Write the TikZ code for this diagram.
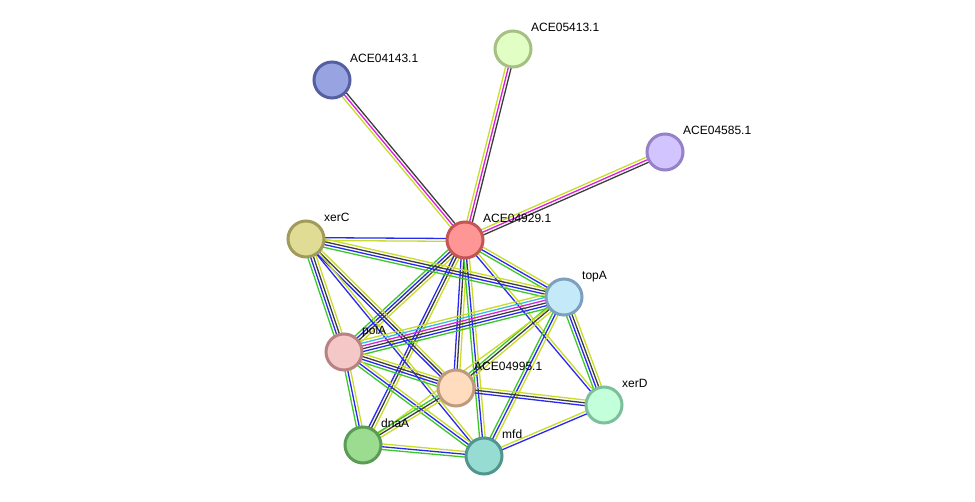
\documentclass[tikz,border=0pt]{standalone}
\usepackage{fontspec}
\setmainfont{Liberation Sans}
\usepackage{tikz}
\usetikzlibrary{calc, backgrounds, positioning}
\definecolor{strgreen}{RGB}{60, 200, 40}
\definecolor{strblue}{RGB}{40, 40, 240}
\definecolor{strblack}{RGB}{60, 60, 60}
\definecolor{strmag}{RGB}{220, 30, 220}
\definecolor{strcyan}{RGB}{40, 190, 230}
\definecolor{stryellow}{RGB}{200, 220, 40}
\definecolor{fillA}{RGB}{255, 150, 150}  \definecolor{lineA}{RGB}{195, 85, 85}
\definecolor{fillB}{RGB}{152, 163, 225}  \definecolor{lineB}{RGB}{85, 95, 160}
\definecolor{fillC}{RGB}{225, 255, 196}  \definecolor{lineC}{RGB}{165, 192, 130}
\definecolor{fillD}{RGB}{210, 196, 255}  \definecolor{lineD}{RGB}{150, 128, 200}
\definecolor{fillE}{RGB}{224, 220, 150}  \definecolor{lineE}{RGB}{160, 155, 90}
\definecolor{fillF}{RGB}{196, 234, 250}  \definecolor{lineF}{RGB}{125, 160, 190}
\definecolor{fillG}{RGB}{245, 200, 200}  \definecolor{lineG}{RGB}{185, 130, 130}
\definecolor{fillH}{RGB}{255, 220, 190}  \definecolor{lineH}{RGB}{190, 155, 125}
\definecolor{fillI}{RGB}{196, 255, 220}  \definecolor{lineI}{RGB}{125, 190, 155}
\definecolor{fillJ}{RGB}{155, 220, 145}  \definecolor{lineJ}{RGB}{90, 155, 85}
\definecolor{fillK}{RGB}{150, 220, 210}  \definecolor{lineK}{RGB}{80, 150, 140}

\tikzset{
    prot/.style={circle, minimum size=36pt, inner sep=0pt, line width=3pt},
    protlabel/.style={anchor=base west, inner sep=0pt, font=\fontsize{12}{14}\selectfont},
    evline/.style={line width=1.3pt}
}

% #1 name, #2 position, #3 fill, #4 border, #5 label
\newcommand{\prot}[5]{%
    \node[prot, fill=#3, draw=#4] (#1) at (#2) {};
    \node[protlabel] (#1-lbl) at ([shift={(18,-17)}]#1.center) {#5};
}

% #1 from, #2 to, #3 evidence colours
\newcommand{\strlink}[3]{%
    \foreach \col [count=\n] in {#3} {\xdef\nlines{\n}}%
    \foreach \col [count=\i] in {#3} {%
        \pgfmathsetmacro\off{(\i-(\nlines+1)/2)*2.8}%
        \draw[evline, \col] ($(#1.center)!\off pt!90:(#2.center)$) -- ($(#2.center)!\off pt!-90:(#1.center)$);
    }%
}

\begin{document}
\begin{tikzpicture}[x=1pt, y=-1pt]
    \useasboundingbox (0,0) rectangle (975,502);

    \prot{a4929}{465,240}{fillA}{lineA}{ACE04929.1}
    \prot{a4143}{332,80}{fillB}{lineB}{ACE04143.1}
    \prot{a5413}{513,49}{fillC}{lineC}{ACE05413.1}
    \prot{a4585}{665,152}{fillD}{lineD}{ACE04585.1}
    \prot{xerC}{306,239}{fillE}{lineE}{xerC}
    \prot{topA}{564,297}{fillF}{lineF}{topA}
    \prot{polA}{344,352}{fillG}{lineG}{polA}
    \prot{a4995}{456,388}{fillH}{lineH}{ACE04995.1}
    \prot{xerD}{604,405}{fillI}{lineI}{xerD}
    \prot{dnaA}{363,445}{fillJ}{lineJ}{dnaA}
    \prot{mfd}{484,456}{fillK}{lineK}{mfd}

    \begin{scope}[on background layer]
        \strlink{a4929}{a4143}{strblack,strmag,stryellow}
        \strlink{a4929}{a5413}{strblack,strmag,stryellow}
        \strlink{a4929}{a4585}{strblack,strmag,stryellow}
        \strlink{a4929}{xerC}{strblue,stryellow}
        \strlink{a4929}{topA}{strgreen,strblue,stryellow}
        \strlink{a4929}{polA}{strgreen,strblue,strblack,stryellow}
        \strlink{a4929}{a4995}{strblue,strblack,stryellow}
        \strlink{a4929}{dnaA}{strblue,strblack,stryellow}
        \strlink{a4929}{mfd}{strgreen,strblue,stryellow}
        \strlink{a4929}{xerD}{strblue,stryellow}
        \strlink{xerC}{topA}{strgreen,strblue,strblack,stryellow}
        \strlink{xerC}{polA}{strgreen,strblue,strblack,stryellow}
        \strlink{xerC}{a4995}{strblue,strblack,stryellow}
        \strlink{xerC}{mfd}{strblue,stryellow}
        \strlink{polA}{topA}{strgreen,strblue,strblack,strmag,strcyan,stryellow}
        \strlink{polA}{a4995}{strgreen,strblue,strblack,stryellow}
        \strlink{polA}{mfd}{strgreen,strblue,stryellow}
        \strlink{polA}{dnaA}{strgreen,strblue,stryellow}
        \strlink{topA}{a4995}{strgreen,strblack,stryellow}
        \strlink{topA}{mfd}{strgreen,strblue,stryellow}
        \strlink{topA}{xerD}{strgreen,strblue,strblack,stryellow}
        \strlink{topA}{dnaA}{stryellow}
        \strlink{a4995}{dnaA}{strgreen,strblack,stryellow}
        \strlink{a4995}{xerD}{strblue,strblack,stryellow}
        \strlink{dnaA}{mfd}{strgreen,strblue,stryellow}
        \strlink{mfd}{xerD}{strblue,stryellow}
    \end{scope}
\end{tikzpicture}
\end{document}
